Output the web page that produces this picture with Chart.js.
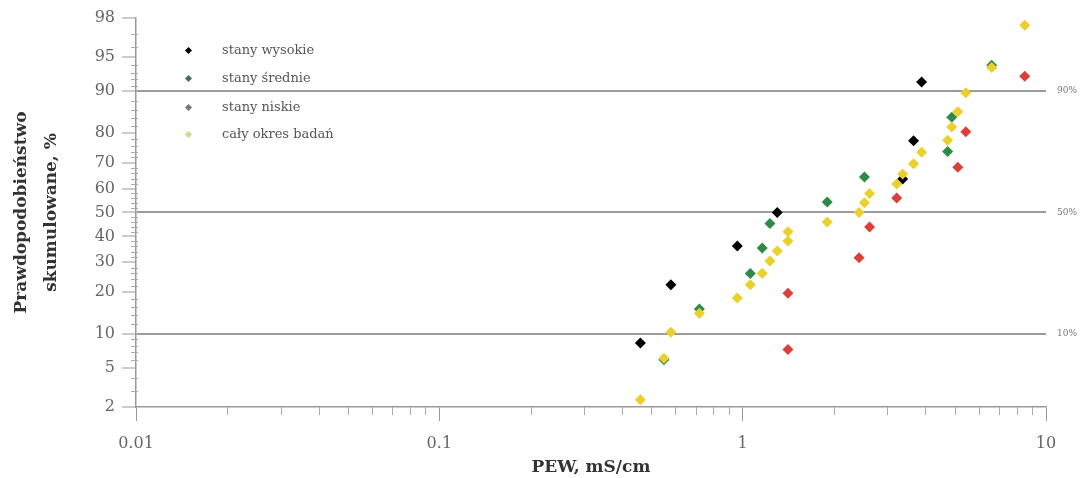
<!DOCTYPE html>
<html>
<head>
<meta charset="utf-8">
<script src="https://cdn.jsdelivr.net/npm/chart.js@4.4.1/dist/chart.umd.min.js"></script>
<style>
    html, body { margin: 0; padding: 0; background: #fff; }
    #wrap { position: relative; width: 1088px; height: 478px; }
    .lg { position: absolute; left: 222px; font-family: "DejaVu Serif", serif; font-size: 13px; color: #555; line-height: 16px; white-space: nowrap; }
    .mk { position: absolute; width: 5px; height: 5px; transform: rotate(45deg); }
</style>
</head>
<body>
<div id="wrap">
    <canvas id="probChart" width="1088" height="478"></canvas>
    <div id="legend"></div>
</div>
<script>
    // Data: PEW [mS/cm] and cumulative probability [%]
    const pewHigh = [0.46, 0.58, 0.96, 1.30, 3.37, 3.66, 3.89];
    const probHigh = [8.4, 22.3, 36.2, 50.0, 63.8, 77.6, 91.6];

    const pewMid = [0.55, 0.72, 1.06, 1.16, 1.23, 1.90, 2.52, 4.74, 4.89, 6.62];
    const probMid = [6.0, 15.4, 26.0, 35.4, 45.4, 54.4, 64.6, 74.0, 84.3, 94.0];

    const pewLow = [1.41, 1.41, 2.42, 2.62, 3.22, 5.12, 5.44, 8.51];
    const probLow = [7.4, 19.7, 31.6, 43.9, 56.1, 68.4, 80.3, 92.5];

    const pewAll = [0.46, 0.55, 0.58, 0.72, 0.96, 1.06, 1.16, 1.23, 1.30, 1.41, 1.41, 1.90, 2.42, 2.52, 2.62,
        3.22, 3.37, 3.66, 3.89, 4.74, 4.89, 5.12, 5.44, 6.62, 8.51];
    const probAll = [2.4, 6.2, 10.3, 14.4, 18.3, 22.3, 26.1, 30.4, 34.2, 38.2, 41.9, 46.0, 50.0, 54.1, 58.0,
        61.8, 65.8, 69.7, 73.8, 77.7, 81.7, 85.6, 89.7, 93.7, 97.6];

    const yTicks = [2, 5, 10, 20, 30, 40, 50, 60, 70, 80, 90, 95, 98];
    const yMinor = [3, 4, 6, 7, 8, 9, 12, 14, 16, 18, 22, 24, 26, 28, 32, 34, 36, 38, 42, 44, 46, 48,
        52, 54, 56, 58, 62, 64, 66, 68, 72, 74, 76, 78, 82, 84, 86, 88, 91, 92, 93, 94, 96, 97];
    const refLines = [10, 50, 90];
    const xTicks = [0.01, 0.1, 1, 10];
    const xTickLabels = ["0.01", "0.1", "1", "10"];
    const xMinor = [0.02, 0.03, 0.04, 0.05, 0.06, 0.07, 0.08, 0.09, 0.2, 0.3, 0.4, 0.5, 0.6, 0.7, 0.8, 0.9,
        2, 3, 4, 5, 6, 7, 8, 9];

    const seriesNames = ["stany wysokie", "stany średnie", "stany niskie", "cały okres badań"];
    const seriesColors = ["#000000", "#2f8a47", "#dc3f38", "#ebcf2b"];
    const legendColors = ["#000000", "#4d6b53", "#777777", "#d4d48a"];

    const serif = "'DejaVu Serif', serif";

    // inverse normal CDF (Acklam) -> probability axis
    function probit(pct) {
        const p = pct / 100;
        const a = [-3.969683028665376e+01, 2.209460984245205e+02, -2.759285104469687e+02, 1.383577518672690e+02, -3.066479806614716e+01, 2.506628277459239e+00];
        const b = [-5.447609879822406e+01, 1.615858368580409e+02, -1.556989798598866e+02, 6.680131188771972e+01, -1.328068155288572e+01];
        const c = [-7.784894002430293e-03, -3.223964580411365e-01, -2.400758277161838e+00, -2.549732539343734e+00, 4.374664141464968e+00, 2.938163982698783e+00];
        const d = [7.784695709041462e-03, 3.224671290700398e-01, 2.445134137142996e+00, 3.754408661907416e+00];
        const pl = 0.02425;
        let q, r;
        if (p < pl) {
            q = Math.sqrt(-2 * Math.log(p));
            return (((((c[0] * q + c[1]) * q + c[2]) * q + c[3]) * q + c[4]) * q + c[5]) / ((((d[0] * q + d[1]) * q + d[2]) * q + d[3]) * q + 1);
        }
        if (p > 1 - pl) {
            q = Math.sqrt(-2 * Math.log(1 - p));
            return -(((((c[0] * q + c[1]) * q + c[2]) * q + c[3]) * q + c[4]) * q + c[5]) / ((((d[0] * q + d[1]) * q + d[2]) * q + d[3]) * q + 1);
        }
        q = p - 0.5; r = q * q;
        return (((((a[0] * r + a[1]) * r + a[2]) * r + a[3]) * r + a[4]) * r + a[5]) * q / (((((b[0] * r + b[1]) * r + b[2]) * r + b[3]) * r + b[4]) * r + 1);
    }

    const toPts = (xs, ps) => xs.map((x, i) => ({ x: x, y: probit(ps[i]) }));
    const yMin = probit(yTicks[0]);
    const yMax = probit(yTicks[yTicks.length - 1]);

    // short minor ticks on both axes
    const minorTicks = {
        id: "minorTicks",
        afterDraw(chart) {
            const { ctx } = chart;
            const x = chart.scales.x, y = chart.scales.y;
            ctx.save();
            ctx.strokeStyle = "#aaa";
            ctx.lineWidth = 1;
            ctx.beginPath();
            xMinor.forEach(v => {
                const px = Math.round(x.getPixelForValue(v)) + 0.5;
                ctx.moveTo(px, x.top);
                ctx.lineTo(px, x.top + 8);
            });
            yMinor.forEach(p => {
                const py = Math.round(y.getPixelForValue(probit(p))) + 0.5;
                ctx.moveTo(y.right - 5, py);
                ctx.lineTo(y.right + 2, py);
            });
            ctx.stroke();
            ctx.restore();
        }
    };

    const datasets = [
        { label: seriesNames[0], data: toPts(pewHigh, probHigh), order: 1 },
        { label: seriesNames[1], data: toPts(pewMid, probMid), order: 2 },
        { label: seriesNames[2], data: toPts(pewLow, probLow), order: 3 },
        { label: seriesNames[3], data: toPts(pewAll, probAll), order: 0 }
    ];
    datasets.forEach((ds, i) => {
        ds.backgroundColor = seriesColors[i];
        ds.borderColor = seriesColors[i];
    });

    new Chart(document.getElementById("probChart"), {
        type: "scatter",
        data: { datasets: datasets },
        options: {
            responsive: false,
            animation: false,
            layout: { padding: { top: 18, left: 0, right: 0, bottom: 0 } },
            plugins: { legend: { display: false }, tooltip: { enabled: false } },
            elements: { point: { pointStyle: "rectRot", radius: 5.5, borderWidth: 0 } },
            scales: {
                x: {
                    type: "logarithmic",
                    min: 0.01, max: 10,
                    afterBuildTicks: s => { s.ticks = xTicks.map(v => ({ value: v })); },
                    afterFit: s => { s.height = 71; },
                    grid: { drawOnChartArea: false, tickLength: 14, tickColor: "#999" },
                    border: { color: "#999", width: 1.5 },
                    ticks: { padding: 13, color: "#666", font: { family: serif, size: 16 }, callback: (v, i) => xTickLabels[i] },
                    title: { display: true, text: "PEW, mS/cm", color: "#333", font: { family: serif, size: 17, weight: "bold" }, padding: { top: 0, bottom: 0 } }
                },
                y: {
                    type: "linear",
                    min: yMin, max: yMax,
                    afterBuildTicks: s => { s.ticks = yTicks.map(p => ({ value: probit(p) })); },
                    afterFit: s => { s.width = 136; },
                    grid: {
                        drawOnChartArea: true,
                        color: c => refLines.includes(yTicks[c.index]) ? "#9c9c9c" : "rgba(0,0,0,0)",
                        lineWidth: 2,
                        tickLength: 14, tickColor: "#999", tickWidth: 1
                    },
                    border: { color: "#999", width: 1.5 },
                    ticks: { padding: 7, color: "#666", font: { family: serif, size: 16 }, callback: (v, i) => String(yTicks[i]) },
                    title: {
                        display: true,
                        text: ["Prawdopodobieństwo", "skumulowane, %"],
                        color: "#333",
                        font: { family: serif, size: 17, weight: "bold", lineHeight: 1.8 },
                        padding: { top: 6, bottom: 0 }
                    }
                },
                y2: {
                    type: "linear",
                    position: "right",
                    min: yMin, max: yMax,
                    afterBuildTicks: s => { s.ticks = refLines.map(p => ({ value: probit(p) })); },
                    afterFit: s => { s.width = 42; },
                    grid: { display: false, drawTicks: false },
                    border: { display: false },
                    ticks: { padding: 11, color: "#777", font: { family: serif, size: 9 }, callback: (v, i) => refLines[i] + "%" }
                }
            }
        },
        plugins: [minorTicks]
    });

    // legend inside the plot, top-left
    const legendRows = [50, 78, 107, 134];
    const legend = document.getElementById("legend");
    seriesNames.forEach((name, i) => {
        const mk = document.createElement("span");
        mk.className = "mk";
        mk.style.left = "186px";
        mk.style.top = (legendRows[i] - 2.5) + "px";
        mk.style.background = legendColors[i];
        legend.appendChild(mk);
        const lb = document.createElement("div");
        lb.className = "lg";
        lb.style.top = (legendRows[i] - 8) + "px";
        lb.textContent = name;
        legend.appendChild(lb);
    });
</script>
</body>
</html>
